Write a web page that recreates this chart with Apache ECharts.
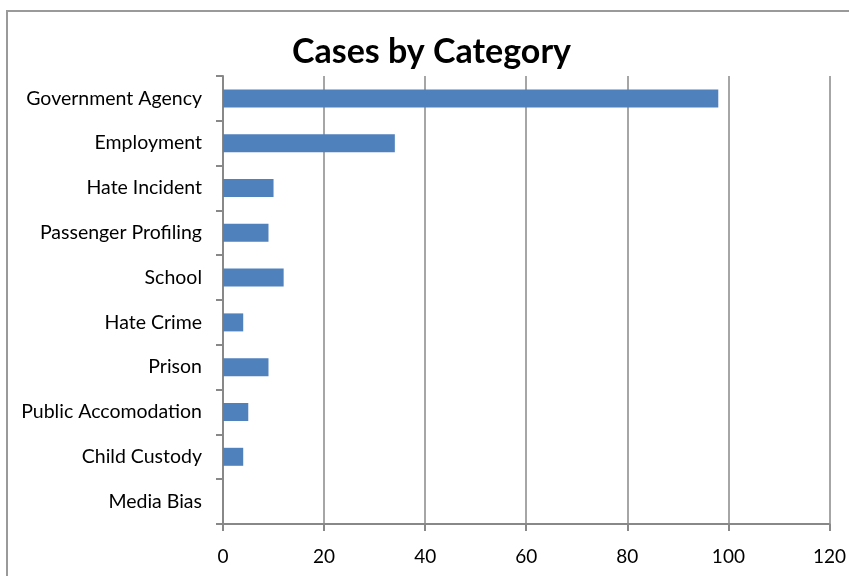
<!DOCTYPE html>
<html>
<head>
<meta charset="utf-8">
<script src="https://cdn.jsdelivr.net/npm/echarts@6/dist/echarts.min.js"></script>
<style>html,body{margin:0;padding:0;background:#fff;}#c{width:849px;height:576px;}</style>
</head>
<body>
<div id="c"></div>
<script>
var categories = ["Government Agency","Employment","Hate Incident","Passenger Profiling","School","Hate Crime","Prison","Public Accomodation","Child Custody","Media Bias"];
var values = [98,34,10,9,12,4,9,5,4,0];
var xTicks = {min:0, max:120, interval:20};

var chart = echarts.init(document.getElementById('c'), null, {renderer:'canvas'});
var font = 'Lato, "Open Sans", sans-serif';
chart.setOption({
  animation:false,
  backgroundColor:'#ffffff',
  graphic:[{type:'rect', shape:{x:7, y:11, width:900, height:700}, style:{fill:'none', stroke:'#9a9a9a', lineWidth:2}, silent:true}],
  title:{text:'Cases by Category', left:292, top:35, textStyle:{fontFamily:font, fontWeight:'bold', fontSize:34, color:'#000'}, padding:0},
  grid:{left:223, right:18, top:76, bottom:52, containLabel:false},
  xAxis:{type:'value', min:xTicks.min, max:xTicks.max, interval:xTicks.interval,
    axisLine:{show:true, lineStyle:{color:'#888', width:2}},
    axisTick:{show:true, length:7, lineStyle:{color:'#888', width:2}},
    splitLine:{show:true, lineStyle:{color:'#888', width:1.5}},
    axisLabel:{margin:23, fontFamily:font, fontSize:19, color:'#000'}},
  yAxis:{type:'category', inverse:true, data:categories,
    axisLine:{show:true, lineStyle:{color:'#888', width:2}},
    axisTick:{show:true, length:7, lineStyle:{color:'#888', width:2}},
    axisLabel:{margin:21, fontFamily:font, fontSize:19.5, color:'#000'}},
  series:[{type:'bar', data:values, barWidth:18, itemStyle:{color:'#4F81BD'}}]
});
</script>
</body>
</html>
